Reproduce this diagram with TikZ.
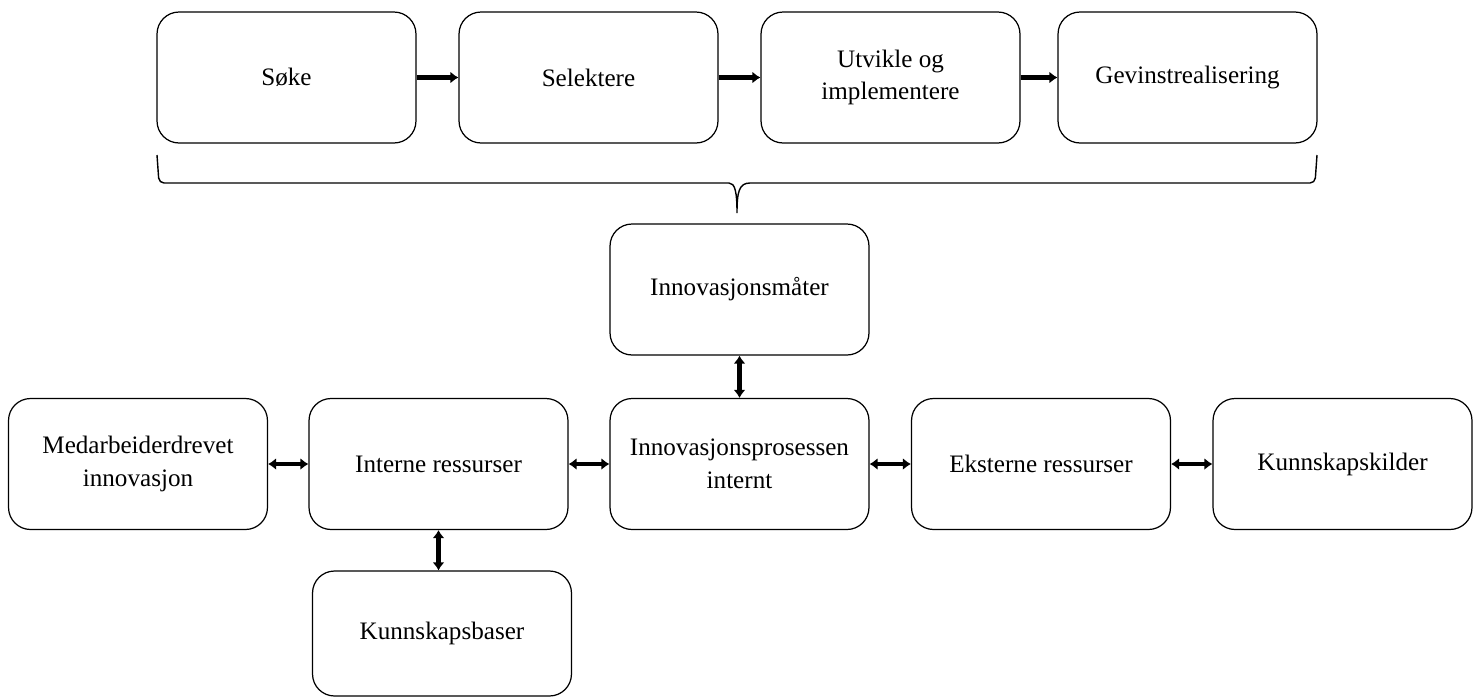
\documentclass[tikz,border=0pt]{standalone}
\usepackage{fontspec}
\setmainfont{Liberation Serif}
\usetikzlibrary{positioning,arrows.meta}

\begin{document}
\begin{tikzpicture}[x=0.02cm, y=-0.02cm,
  boks/.style={draw, rounded corners=0.44cm, line width=0.7pt, minimum width=5.18cm, minimum height=2.62cm, align=center, font=\fontsize{14.3}{18.5}\selectfont},
  pil/.style={line width=2.6pt, -{Latex[length=0.16cm,width=0.24cm]}},
  dpil/.style={line width=2.6pt, {Latex[length=0.16cm,width=0.24cm]}-{Latex[length=0.16cm,width=0.24cm]}}]
\useasboundingbox (0,0) rectangle (1480,697);

\node[boks] (soke) at (286.5, 77.5) {Søke};
\node[boks] (sel) at (588.5, 77.5) {Selektere};
\node[boks] (utv) at (890.5, 77.5) {Utvikle og\\implementere};
\node[boks] (gev) at (1187.5, 77.5) {Gevinstrealisering};

\node[boks] (maate) at (739.5, 289.5) {Innovasjonsmåter};

\node[boks] (medarb) at (138, 464) {Medarbeiderdrevet\\innovasjon};
\node[boks] (intern) at (438.5, 464) {Interne ressurser};
\node[boks] (prosess) at (739.5, 464) {Innovasjonsprosessen\\internt};
\node[boks] (ekstern) at (1041, 464) {Eksterne ressurser};
\node[boks] (kilder) at (1342.5, 464) {Kunnskapskilder};

\node[boks, minimum height=2.5cm] (baser) at (442, 633.5) {Kunnskapsbaser};

\draw[pil] (soke) -- (sel);
\draw[pil] (sel) -- (utv);
\draw[pil] (utv) -- (gev);

% klamme under toppraden
\draw[line width=0.8pt, rounded corners=0.1cm]
  (157,155) -- (159,183) -- (724,183)
  [sharp corners] .. controls (735,183) and (737,192) .. (737,213)
  .. controls (737,192) and (739,183) .. (750,183)
  [rounded corners=0.1cm] -- (1315,183) -- (1317,155);

\draw[dpil] (maate) -- (prosess);
\draw[dpil] (medarb) -- (intern);
\draw[dpil] (intern) -- (prosess);
\draw[dpil] (prosess) -- (ekstern);
\draw[dpil] (ekstern) -- (kilder);
\coordinate (i1) at (intern.south);
\draw[dpil] (i1) -- (i1 |- baser.north);

\end{tikzpicture}
\end{document}
